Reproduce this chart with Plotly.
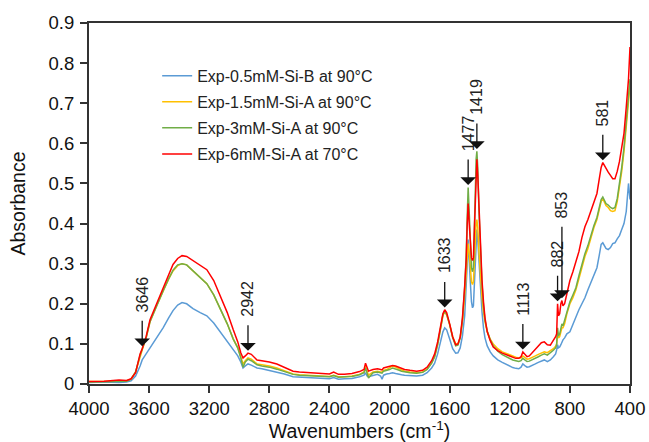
import numpy as np
import plotly.graph_objects as go

# ---------------- data ----------------
wavenumbers = [4000, 3900, 3800, 3750, 3720, 3690, 3660, 3646, 3620, 3594, 3550, 3507, 3470, 3441, 3410, 3381,
               3350, 3308, 3260, 3216, 3170, 3128, 3080, 3040, 3010, 2990, 2975, 2960, 2942, 2920, 2882, 2850,
               2800, 2750, 2700, 2642, 2600, 2500, 2400, 2372, 2340, 2300, 2250, 2200, 2170, 2160, 2150, 2140,
               2110, 2080, 2060, 2050, 2040, 2020, 2000, 1980, 1960, 1940, 1920, 1900, 1864, 1820, 1780, 1750,
               1720, 1700, 1680, 1660, 1645, 1633, 1620, 1600, 1580, 1560, 1545, 1530, 1515, 1500, 1490, 1483,
               1477, 1470, 1462, 1455, 1448, 1442, 1436, 1430, 1424, 1419, 1413, 1405, 1395, 1385, 1375, 1365,
               1350, 1330, 1310, 1280, 1250, 1220, 1200, 1180, 1160, 1140, 1125, 1113, 1100, 1085, 1070, 1050,
               1030, 1010, 990, 970, 950, 930, 910, 895, 888, 882, 876, 868, 860, 853, 846, 835,
               820, 800, 780, 760, 740, 720, 700, 680, 660, 640, 620, 605, 592, 581, 570, 560,
               545, 530, 515, 500, 485, 470, 455, 440, 425, 410, 400]

abs_05mM_B_90C = [.004, .005, .004, .005, .008, .020, .045, .060, .075, .090, .115, .140, .165, .183, .197, .203,
                  .200, .188, .178, .170, .152, .130, .105, .085, .070, .055, .040, .045, .050, .047, .040, .038,
                  .034, .030, .025, .018, .017, .015, .013, .016, .012, .013, .014, .018, .022, .028, .020, .018,
                  .022, .024, .020, .012, .022, .025, .026, .028, .026, .024, .023, .022, .021, .020, .022, .028,
                  .040, .052, .075, .105, .130, .140, .135, .112, .088, .077, .078, .090, .120, .170, .230, .300,
                  .360, .320, .250, .205, .190, .195, .250, .320, .370, .385, .360, .300, .230, .180, .140, .115,
                  .095, .080, .070, .060, .054, .048, .044, .041, .039, .038, .042, .050, .046, .042, .043, .046,
                  .050, .054, .058, .060, .056, .060, .068, .075, .085, .098, .090, .092, .098, .105, .110, .115,
                  .125, .130, .150, .170, .185, .200, .215, .235, .252, .270, .290, .320, .348, .352, .345, .338,
                  .335, .340, .350, .352, .362, .370, .385, .400, .430, .500, .460]

abs_15mM_A_90C = [.006, .006, .007, .008, .012, .030, .070, .085, .115, .155, .195, .232, .262, .282, .295, .300,
                  .297, .282, .265, .250, .222, .190, .150, .112, .090, .068, .050, .058, .065, .062, .050, .048,
                  .045, .040, .033, .025, .023, .021, .019, .022, .018, .018, .020, .024, .030, .044, .032, .022,
                  .030, .032, .030, .030, .034, .036, .040, .045, .042, .038, .034, .032, .030, .028, .030, .037,
                  .052, .068, .098, .140, .170, .180, .172, .148, .118, .100, .100, .115, .155, .220, .270, .320,
                  .350, .330, .280, .255, .248, .255, .300, .360, .400, .410, .390, .330, .270, .215, .180, .155,
                  .130, .112, .100, .088, .080, .075, .072, .069, .067, .065, .065, .070, .066, .062, .063, .066,
                  .070, .074, .078, .080, .078, .082, .088, .094, .100, .130, .115, .118, .130, .140, .140, .150,
                  .175, .200, .215, .235, .262, .290, .318, .338, .365, .390, .410, .435, .455, .462, .452, .445,
                  .440, .432, .430, .432, .455, .490, .530, .580, .640, .700, .745]

abs_3mM_A_90C = [.005, .006, .006, .007, .012, .030, .072, .088, .115, .155, .195, .232, .262, .284, .297, .300,
                 .297, .283, .266, .250, .222, .190, .150, .112, .090, .065, .042, .055, .062, .058, .048, .045,
                 .042, .037, .031, .024, .022, .020, .018, .021, .017, .018, .019, .023, .028, .040, .030, .015,
                 .028, .030, .028, .027, .032, .034, .036, .040, .038, .035, .032, .030, .028, .027, .029, .036,
                 .052, .068, .098, .140, .172, .182, .174, .148, .115, .095, .097, .115, .160, .240, .320, .420,
                 .490, .430, .330, .290, .280, .290, .380, .480, .560, .580, .540, .430, .330, .250, .195, .160,
                 .132, .110, .095, .082, .073, .067, .063, .060, .058, .056, .058, .064, .060, .056, .057, .060,
                 .064, .068, .072, .075, .072, .077, .084, .090, .098, .140, .120, .125, .140, .150, .145, .158,
                 .180, .205, .222, .240, .270, .298, .325, .345, .372, .395, .415, .440, .460, .466, .456, .450,
                 .446, .440, .437, .440, .462, .500, .540, .590, .650, .710, .760]

abs_6mM_A_70C = [.006, .007, .010, .009, .013, .028, .075, .088, .118, .160, .200, .240, .275, .298, .313, .320,
                 .318, .308, .297, .285, .258, .222, .178, .135, .105, .078, .065, .070, .077, .074, .060, .058,
                 .055, .050, .042, .032, .030, .028, .025, .030, .024, .024, .026, .031, .036, .052, .040, .032,
                 .036, .038, .036, .035, .040, .042, .044, .046, .045, .042, .038, .036, .034, .032, .034, .042,
                 .058, .075, .105, .145, .175, .185, .178, .150, .118, .098, .100, .117, .165, .245, .310, .400,
                 .450, .400, .340, .315, .308, .315, .380, .450, .530, .560, .520, .430, .340, .260, .205, .165,
                 .130, .108, .092, .083, .077, .072, .069, .066, .064, .064, .068, .080, .074, .068, .070, .078,
                 .086, .096, .103, .105, .098, .097, .108, .118, .125, .200, .170, .175, .200, .208, .195, .200,
                 .225, .258, .280, .305, .330, .365, .392, .410, .430, .452, .475, .510, .540, .552, .545, .535,
                 .528, .520, .512, .512, .530, .555, .585, .625, .690, .760, .840]

series_names = ["Exp-0.5mM-Si-B at 90°C", "Exp-1.5mM-Si-A at 90°C",
                "Exp-3mM-Si-A at 90°C", "Exp-6mM-Si-A at 70°C"]
series_values = [abs_05mM_B_90C, abs_15mM_A_90C, abs_3mM_A_90C, abs_6mM_A_70C]

peak_labels = [3646, 2942, 1633, 1477, 1419, 1113, 882, 853, 581]

x_ticks = [4000, 3600, 3200, 2800, 2400, 2000, 1600, 1200, 800, 400]
y_ticks = [0, 0.1, 0.2, 0.3, 0.4, 0.5, 0.6, 0.7, 0.8, 0.9]

# ---------------- style ----------------
colors = ["#5B9BD5", "#FFC000", "#70AD47", "#FF0000"]
FONT = "Arial, Liberation Sans, sans-serif"
arrow_len = {853: 73}
default_arrow_len = 27

fig = go.Figure()
for name, vals, col in zip(series_names, series_values, colors):
    fig.add_trace(go.Scatter(x=wavenumbers, y=vals, mode="lines", name=name,
                             line=dict(color=col, width=1.5), legendgroup=name))

wn_rev = np.array(wavenumbers[::-1], dtype=float)
for pk in peak_labels:
    top = max(float(np.interp(pk, wn_rev, np.array(v[::-1], dtype=float))) for v in series_values)
    tip = top + 0.006
    L = arrow_len.get(pk, default_arrow_len)
    fig.add_annotation(x=pk, y=tip, xref="x", yref="y", text="", showarrow=True,
                       ax=0, ay=-L, arrowhead=1, arrowsize=2.0, arrowwidth=1.3,
                       arrowcolor="#111", standoff=0)
    fig.add_annotation(x=pk, y=tip, xref="x", yref="y", text=str(pk), showarrow=False,
                       textangle=-90, yanchor="bottom", xanchor="center", yshift=L + 5,
                       font=dict(family=FONT, size=16, color="#222"))

fig.update_xaxes(range=[4000, 400], tickvals=x_ticks, ticktext=[str(t) for t in x_ticks],
                 showline=True, linecolor="#333", linewidth=2, mirror=True,
                 ticks="outside", ticklen=7, tickwidth=1.5, tickcolor="#333",
                 showgrid=False, zeroline=False, automargin=False,
                 tickfont=dict(family=FONT, size=18.5, color="#111"),
                 title=dict(text="Wavenumbers (cm<sup>-1</sup>)", standoff=3,
                            font=dict(family=FONT, size=19.5, color="#111")))
fig.update_yaxes(range=[0, 0.9], tickvals=y_ticks, ticktext=["0"] + [f"{t:.1f}" for t in y_ticks[1:]],
                 showline=True, linecolor="#333", linewidth=2, mirror=True,
                 ticks="outside", ticklen=7, tickwidth=1.5, tickcolor="#333",
                 ticklabelstandoff=2, automargin=False,
                 showgrid=False, zeroline=False,
                 tickfont=dict(family=FONT, size=18.5, color="#111"),
                 title=dict(text="Absorbance", standoff=18,
                            font=dict(family=FONT, size=19.5, color="#111")))

fig.update_layout(width=649, height=442, margin=dict(l=89, r=19, t=23, b=58),
                  plot_bgcolor="white", paper_bgcolor="white",
                  legend=dict(x=0.126, y=0.901, xanchor="left", yanchor="top",
                              bgcolor="rgba(0,0,0,0)", tracegroupgap=2.3,
                              font=dict(family=FONT, size=16, color="#222")),
                  showlegend=True)

fig.write_html("out.html", config={"displayModeBar": False},
               post_script="document.body.style.margin='0px';")
